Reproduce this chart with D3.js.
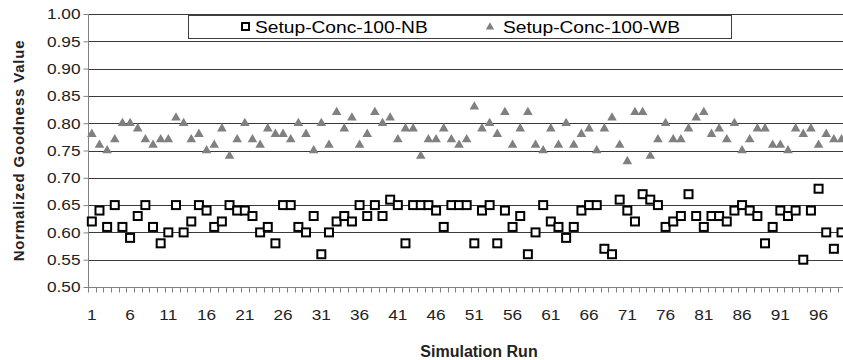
<!doctype html>
<html lang="en">
<head>
<meta charset="utf-8">
<script src="https://d3js.org/d3.v7.min.js"></script>
<style>
  body { margin:0; background:#fff; }
  svg { display:block; font-family:"Liberation Sans", Arial, sans-serif; }
  .axis text { font-size:15px; fill:#222; }
  .axis path, .axis line { stroke:#808080; }
  .grid line { stroke:#3a3a3a; stroke-width:1; }
  .title { font-weight:bold; fill:#222; }
  .nb { fill:#fff; stroke:#000; stroke-width:2; }
  .wb { fill:#808080; }
</style>
</head>
<body>
<div id="chart"></div>
<script>
  // series values, run 1..99 (run 100 is cut off on the right of the picture)
  let nbValues = [0.62,0.64,0.61,0.65,0.61,0.59,0.63,0.65,0.61,0.58,
                  0.60,0.65,0.60,0.62,0.65,0.64,0.61,0.62,0.65,0.64,
                  0.64,0.63,0.60,0.61,0.58,0.65,0.65,0.61,0.60,0.63,
                  0.56,0.60,0.62,0.63,0.62,0.65,0.63,0.65,0.63,0.66,
                  0.65,0.58,0.65,0.65,0.65,0.64,0.61,0.65,0.65,0.65,
                  0.58,0.64,0.65,0.58,0.64,0.61,0.63,0.56,0.60,0.65,
                  0.62,0.61,0.59,0.61,0.64,0.65,0.65,0.57,0.56,0.66,
                  0.64,0.62,0.67,0.66,0.65,0.61,0.62,0.63,0.67,0.63,
                  0.61,0.63,0.63,0.62,0.64,0.65,0.64,0.63,0.58,0.61,
                  0.64,0.63,0.64,0.55,0.64,0.68,0.60,0.57,0.60];
  let wbValues = [0.78,0.76,0.75,0.77,0.80,0.80,0.79,0.77,0.76,0.77,
                  0.77,0.81,0.80,0.77,0.78,0.75,0.76,0.79,0.74,0.77,
                  0.80,0.77,0.76,0.79,0.78,0.78,0.77,0.80,0.78,0.75,
                  0.80,0.76,0.82,0.79,0.81,0.76,0.78,0.82,0.80,0.81,
                  0.77,0.79,0.79,0.74,0.77,0.77,0.79,0.77,0.76,0.77,
                  0.83,0.79,0.80,0.78,0.82,0.76,0.79,0.82,0.76,0.75,
                  0.79,0.76,0.80,0.76,0.78,0.79,0.75,0.79,0.81,0.76,
                  0.73,0.82,0.82,0.74,0.77,0.80,0.77,0.77,0.79,0.81,
                  0.82,0.78,0.79,0.77,0.80,0.75,0.77,0.79,0.79,0.76,
                  0.76,0.75,0.79,0.78,0.79,0.76,0.78,0.77,0.77];
  let runs = d3.range(1, 101);
  let xLabels = d3.range(1, 100, 5);
  let yTicks = d3.range(0.50, 1.001, 0.05);
  let seriesNames = ["Setup-Conc-100-NB", "Setup-Conc-100-WB"];

  let width = 843, height = 360;
  let plotLeft = 88, plotTop = 14, plotBottom = 287;
  let step = 7.65;
  let stretch = 1.15;   // the source text is a little wider than plain Arial

  let svg = d3.select("#chart").append("svg")
              .attr("width", width).attr("height", height);

  let xScale = d3.scaleLinear().domain([0.5, runs.length + 0.5])
                 .range([plotLeft, plotLeft + step * runs.length]);
  let yScale = d3.scaleLinear().domain([0.5, 1.0]).range([plotBottom, plotTop]);

  // horizontal gridlines
  svg.append("g").attr("class", "grid")
     .selectAll("line").data(yTicks.slice(1)).enter().append("line")
     .attr("x1", plotLeft).attr("x2", width)
     .attr("y1", d => Math.round(yScale(d)) + 0.5)
     .attr("y2", d => Math.round(yScale(d)) + 0.5)
     .attr("stroke", (d, i) => i == yTicks.length - 2 ? "#808080" : null);

  // y axis
  let yAxis = svg.append("g").attr("class", "axis")
     .attr("transform", "translate(" + (plotLeft + 0.5) + ",0)")
     .call(d3.axisLeft(yScale).tickValues(yTicks).tickSize(5).tickPadding(3)
             .tickFormat(d3.format(".2f")));
  yAxis.select(".domain").attr("d", "M0," + plotTop + "V" + plotBottom);
  yAxis.selectAll("text").each(function() {
    let t = d3.select(this);
    let x = +t.attr("x");
    t.attr("x", 0).attr("transform", "translate(" + x + ",0) scale(" + stretch + ",1)");
  });

  // x axis: tick marks at category boundaries
  let xAxis = svg.append("g").attr("class", "axis")
     .attr("transform", "translate(0," + (plotBottom + 0.5) + ")");
  xAxis.append("line").attr("x1", plotLeft).attr("x2", width).attr("stroke", "#808080");
  xAxis.selectAll(".tk").data(d3.range(0.5, runs.length + 1)).enter().append("line")
       .attr("class", "tk")
       .attr("x1", d => Math.round(xScale(d)) + 0.5).attr("x2", d => Math.round(xScale(d)) + 0.5)
       .attr("y1", 0).attr("y2", 5);
  xAxis.selectAll(".lbl").data(xLabels).enter().append("text")
       .attr("class", "lbl")
       .attr("transform", d => "translate(" + xScale(d) + ",32) scale(" + stretch + ",1)")
       .attr("text-anchor", "middle")
       .text(d => d);

  // points
  let wb = svg.append("g");
  wb.selectAll("path").data(wbValues).enter().append("path")
    .attr("class", "wb")
    .attr("d", d3.symbol().type(d3.symbolTriangle).size(40))
    .attr("transform", (d, i) => "translate(" + xScale(runs[i]) + "," + yScale(d) + ")");

  let nb = svg.append("g");
  nb.selectAll("rect").data(nbValues).enter().append("rect")
    .attr("class", "nb")
    .attr("x", (d, i) => xScale(runs[i]) - 4)
    .attr("y", d => yScale(d) - 4)
    .attr("width", 8).attr("height", 8);

  // axis titles
  svg.append("text").attr("class", "title")
     .attr("transform", "translate(24," + ((plotTop + plotBottom) / 2) + ") rotate(-90)")
     .attr("text-anchor", "middle")
     .style("font-size", "15px").style("letter-spacing", "0.8px")
     .text("Normalized Goodness Value");
  svg.append("text").attr("class", "title")
     .attr("x", 479).attr("y", 357)
     .attr("text-anchor", "middle")
     .style("font-size", "16px")
     .text("Simulation Run");

  // legend
  let legend = svg.append("g");
  legend.append("rect")
        .attr("x", 188.5).attr("y", 15.5).attr("width", 543).attr("height", 23)
        .attr("fill", "#fff").attr("stroke", "#404040");
  legend.append("rect").attr("class", "nb")
        .attr("x", 242).attr("y", 23).attr("width", 7).attr("height", 7)
        .attr("stroke-width", 1.5);
  legend.append("text")
        .attr("transform", "translate(255,33) scale(1.2,1)")
        .style("font-size", "16px").text(seriesNames[0]);
  legend.append("path").attr("class", "wb")
        .attr("d", d3.symbol().type(d3.symbolTriangle).size(30))
        .attr("transform", "translate(490,27)");
  legend.append("text")
        .attr("transform", "translate(503,33) scale(1.2,1)")
        .style("font-size", "16px").text(seriesNames[1]);
</script>
</body>
</html>
